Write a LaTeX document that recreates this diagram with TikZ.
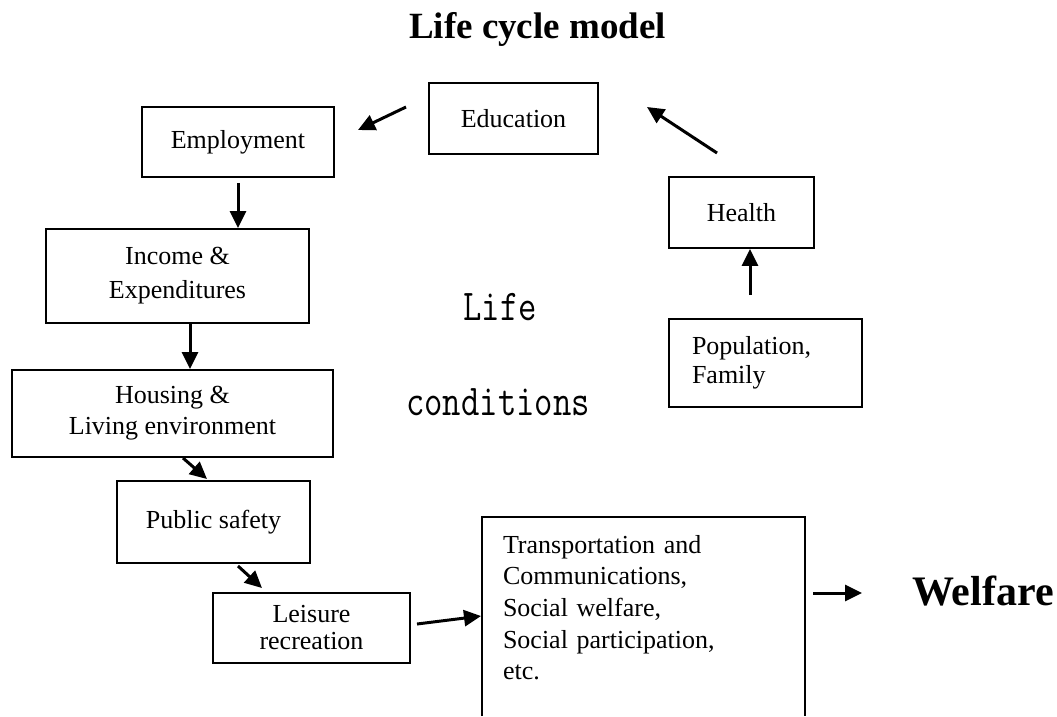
\documentclass[tikz,border=0pt]{standalone}
\usepackage{fontspec}
\usepackage{graphicx}
\setmainfont{Liberation Serif}
\usetikzlibrary{arrows.meta,calc}
\begin{document}
\begin{tikzpicture}[x=1pt,y=-1pt,
  box/.style={draw, line width=1.8pt, inner sep=0pt, font=\fontsize{26}{31}\selectfont, align=center},
  arr/.style={line width=3pt, -{Triangle[length=17pt,width=16pt]}},
  bigtext/.style={font=\fontsize{26}{31.7}\selectfont, align=left},
  lc/.style={anchor=base, inner sep=0pt},
]
\useasboundingbox (0,0) rectangle (1057,716);

\node[anchor=base, inner sep=0pt, font=\bfseries\fontsize{37}{40}\selectfont] (title) at (537.5,38) {Life cycle model};

\node[box, minimum width=169pt, minimum height=71pt] (edu) at (513.5,118.5) {Education};
\node[box, minimum width=192pt, minimum height=70pt] (emp) at (238,142) {Employment};
\node[box, minimum width=263pt, minimum height=94pt, font=\fontsize{26}{34}\selectfont] (inc) at (177.5,276) {Income \&\\Expenditures};
\node[box, minimum width=321pt, minimum height=87pt] (hou) at (172.5,413.5) {Housing \&\\Living environment};
\node[box, minimum width=193pt, minimum height=82pt] (pub) at (213.5,522) {Public safety};
\node[box, minimum width=197pt, minimum height=70pt, font=\fontsize{26}{27}\selectfont] (lei) at (311.5,628) {Leisure\\recreation};
\node[box, minimum width=145pt, minimum height=71pt] (hea) at (741.5,212.5) {Health};
\node[box, minimum width=193pt, minimum height=88pt, align=left, text width=147pt, inner xsep=23pt, font=\fontsize{26}{29}\selectfont] (pop) at (765.5,363) {Population,\\Family};

\node[bigtext, draw=none, inner sep=0pt, inner xsep=21pt, minimum width=323pt, minimum height=199pt, text width=281pt, text height=17.8pt, text depth=144.8pt] (big) at (643.5,616.5)
  {Transportation and\\Communications,\\Social welfare,\\Social participation,\\etc.};
\draw[line width=1.8pt] (big.south west) -- (big.north west) -- (big.north east) -- (big.south east);

\node[anchor=base west, inner sep=0pt, font=\bfseries\fontsize{42}{44}\selectfont] (wel) at (912,605) {Welfare};

\node[lc] (life) at (500,320) {\scalebox{0.81}[1]{\ttfamily\fontsize{44}{44}\selectfont Life}};
\node[lc] (cond) at (498,415) {\scalebox{0.81}[1]{\ttfamily\fontsize{44}{44}\selectfont conditions}};

% connector end points
\coordinate (a1s) at (406,107);
\coordinate (a1e) at (358,130);
\coordinate (a2s) at (717,153);
\coordinate (a2e) at (647,107);
\coordinate (a5s) at (183,458);
\coordinate (a5e) at (207,479);
\coordinate (a6s) at (238,566);
\coordinate (a6e) at (262,588);
\coordinate (a7s) at (417,624);
\coordinate (a7e) at (481,616);
\coordinate (a8s) at (750,295);
\coordinate (a9s) at (813,593);
\coordinate (a9e) at (862,593);

\draw[arr] (a1s) -- (a1e);
\draw[arr] (a2s) -- (a2e);
\draw[arr] ([yshift=-5pt]emp.south) -- (emp.south |- inc.north);
\draw[arr] ([xshift=12.5pt]inc.south) -- ([xshift=12.5pt]inc.south |- hou.north);
\draw[arr] (a5s) -- (a5e);
\draw[arr] (a6s) -- (a6e);
\draw[arr] (a7s) -- (a7e);
\draw[arr] (a8s) -- (a8s |- hea.south);
\draw[arr] (a9s) -- (a9e);
\end{tikzpicture}
\end{document}
